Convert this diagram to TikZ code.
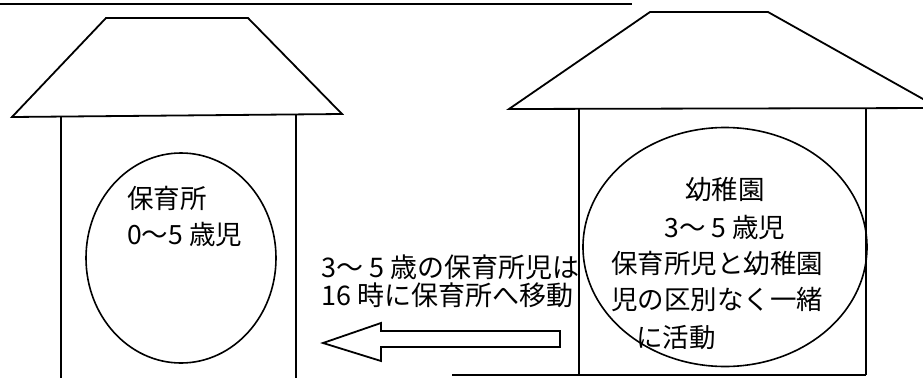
\documentclass[tikz,border=0pt]{standalone}
\usepackage{fontspec}
\newfontfamily\jpfont{Noto Sans CJK JP}
\usetikzlibrary{shapes.geometric}
\tikzset{
  wall/.style={line width=1.8pt},
  oval/.style={draw,ellipse,line width=1.6pt,inner sep=0pt},
  txt/.style={font=\jpfont\fontsize{26.5}{36}\selectfont,inner sep=0pt}
}
\begin{document}
\begin{tikzpicture}[x=1pt,y=-1pt,line join=miter]
  \clip (0,0) rectangle (923,378);
  \draw[line width=1.1pt] (0,4) -- (632,4);

  \draw[wall] (106,18) -- (248,18) -- (342,114) -- (12,117) -- cycle;
  \draw[wall] (61,117) -- (61,378);
  \draw[wall] (296,114) -- (296,378);
  \node[oval,minimum width=190pt,minimum height=210pt] (hoikuOval) at (181,258) {};
  \node[txt,anchor=west,align=left] (hoikuLbl) at (127,216) {保育所\\0～5 歳児};

  \draw[wall] (650,12) -- (768,12) -- (939,108) -- (509,109) -- cycle;
  \draw[wall] (579,109) -- (579,375);
  \draw[wall] (866,108) -- (866,375);
  \draw[wall] (452,375) -- (866,375);
  \node[oval,minimum width=284pt,minimum height=239pt] (yochienOval) at (725,247) {};
  \node[txt,align=center] (yochienLbl) at (725,208) {幼稚園\\[2pt]3～ 5 歳児};
  \node[txt,anchor=west,align=left] (yochienNote) at (611,300) {保育所児と幼稚園\\児の区別なく一緒\\[2pt]\hspace{0.95em}に活動};

  \node[txt,anchor=west,align=left,font=\jpfont\fontsize{27}{28}\selectfont] (moveLbl) at (321,281) {3～ 5 歳の保育所児は\\16 時に保育所へ移動};
  \draw[wall] (323,343) -- (381,323) -- (381,331) -- (560,331) -- (560,347) -- (381,347) -- (381,361) -- cycle;
\end{tikzpicture}
\end{document}
